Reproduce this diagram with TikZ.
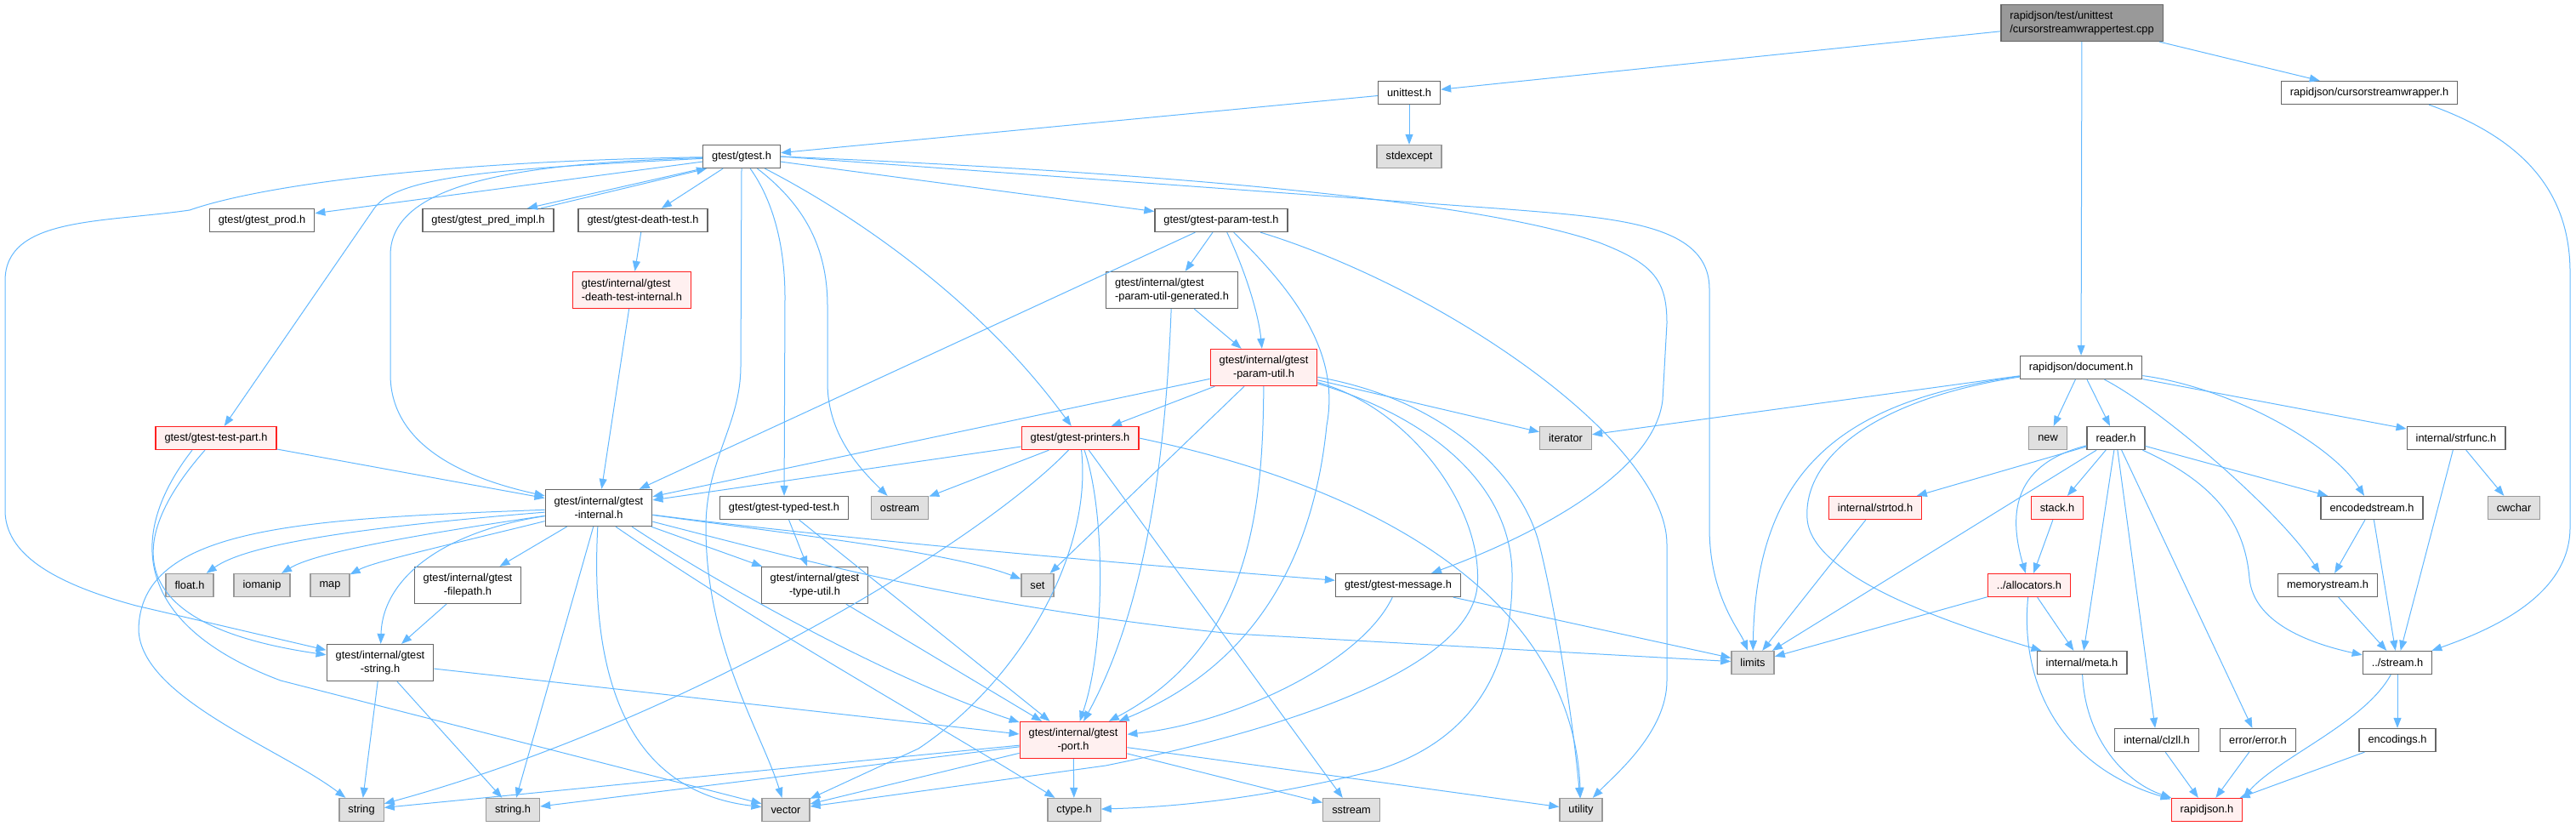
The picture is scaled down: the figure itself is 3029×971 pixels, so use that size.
\documentclass[tikz,border=0pt]{standalone}
\usepackage{fontspec}
\setmainfont{Liberation Sans}
\usetikzlibrary{arrows.meta}
\definecolor{cDep}{HTML}{63B8FF}
\definecolor{cHdr}{HTML}{666666}
\definecolor{cSys}{HTML}{999999}
\definecolor{cSysFill}{HTML}{E0E0E0}
\definecolor{cBad}{HTML}{FF2020}
\definecolor{cBadFill}{HTML}{FFF0F0}
\definecolor{cRoot}{HTML}{999999}

\begin{document}
\begin{tikzpicture}[
			x=1pt, y=-1pt,
			hdr/.style={
				draw=cHdr,
				fill=white,
				line width=1.3pt,
				font=\fontsize{12.8}{15.5}\selectfont,
				inner xsep=10.5pt,
				inner ysep=0pt,
				minimum height=27pt
			},
			sys/.style={hdr, draw=cSys, fill=cSysFill},
			bad/.style={hdr, draw=cBad, fill=cBadFill},
			rootbox/.style={hdr, fill=cRoot},
			twoline/.style={minimum height=43pt, align=center},
			twoleft/.style={minimum height=43pt, align=left},
			dep/.style={draw=cDep, line width=1pt, -{Triangle[length=12pt,width=9pt]}}
			]
			\useasboundingbox (0,0) rectangle (3029,971);

			\node[rootbox,twoleft] (root) at (2448,27) {rapidjson/test/unittest\\/cursorstreamwrappertest.cpp};
			\node[hdr] (unit) at (1657,109) {unittest.h};
			\node[hdr] (csw) at (2786,109) {rapidjson/cursorstreamwrapper.h};
			\node[hdr] (gtest) at (872,184) {gtest/gtest.h};
			\node[sys] (stdexc) at (1657,184) {stdexcept};
			\node[hdr] (gprod) at (308,259) {gtest/gtest\_prod.h};
			\node[hdr] (gpred) at (574,259) {gtest/gtest\_pred\_impl.h};
			\node[hdr] (gdeath) at (756,259) {gtest/gtest-death-test.h};
			\node[hdr] (gparam) at (1436,259) {gtest/gtest-param-test.h};
			\node[bad,twoleft] (gdti) at (743,341) {gtest/internal/gtest\\-death-test-internal.h};
			\node[hdr,twoleft] (gpug) at (1378,341) {gtest/internal/gtest\\-param-util-generated.h};
			\node[bad,twoline] (gpu) at (1486,432) {gtest/internal/gtest\\-param-util.h};
			\node[hdr] (doc) at (2447,432) {rapidjson/document.h};
			\node[bad] (gtp) at (254,515) {gtest/gtest-test-part.h};
			\node[bad] (gprint) at (1270,515) {gtest/gtest-printers.h};
			\node[sys] (iter) at (1841,515) {iterator};
			\node[sys] (new) at (2408,515) {new};
			\node[hdr] (reader) at (2488,515) {reader.h};
			\node[hdr] (strfunc) at (2888,515) {internal/strfunc.h};
			\node[hdr,twoline] (gint) at (704,597) {gtest/internal/gtest\\-internal.h};
			\node[hdr] (gtyped) at (922,597) {gtest/gtest-typed-test.h};
			\node[sys] (ostream) at (1058,597) {ostream};
			\node[bad] (strtod) at (2205,597) {internal/strtod.h};
			\node[bad] (stack) at (2419,597) {stack.h};
			\node[hdr] (encst) at (2789,597) {encodedstream.h};
			\node[sys] (cwchar) at (2956,597) {cwchar};
			\node[sys] (float) at (223,688) {float.h};
			\node[sys] (iomanip) at (308,688) {iomanip};
			\node[sys] (map) at (388,688) {map};
			\node[hdr,twoline] (gfp) at (550,688) {gtest/internal/gtest\\-filepath.h};
			\node[hdr,twoline] (gtu) at (958,688) {gtest/internal/gtest\\-type-util.h};
			\node[sys] (set) at (1220,688) {set};
			\node[hdr] (gmsg) at (1644,688) {gtest/gtest-message.h};
			\node[bad] (alloc) at (2386,688) {../allocators.h};
			\node[hdr] (memst) at (2737,688) {memorystream.h};
			\node[hdr,twoline] (gstr) at (447,779) {gtest/internal/gtest\\-string.h};
			\node[sys] (limits) at (2061,779) {limits};
			\node[hdr] (meta) at (2448,779) {internal/meta.h};
			\node[hdr] (stream) at (2819,779) {../stream.h};
			\node[bad,twoline] (gport) at (1262,870) {gtest/internal/gtest\\-port.h};
			\node[hdr] (clzll) at (2536,870) {internal/clzll.h};
			\node[hdr] (error) at (2655,870) {error/error.h};
			\node[hdr] (encod) at (2819,870) {encodings.h};
			\node[sys] (string) at (425,952) {string};
			\node[sys] (strh) at (603,952) {string.h};
			\node[sys] (vector) at (924,952) {vector};
			\node[sys] (ctype) at (1263,952) {ctype.h};
			\node[sys] (sstream) at (1589,952) {sstream};
			\node[sys] (utility) at (1859,952) {utility};
			\node[bad] (rj) at (2595,952) {rapidjson.h};

			\draw[dep] (root) -- (unit);
			\draw[dep] (root) -- (doc);
			\draw[dep] (root) -- (csw);
			\draw[dep] (unit) -- (gtest);
			\draw[dep] (unit) -- (stdexc);
			\draw[dep] ([xshift=70pt]csw.south) .. controls (2960,160) and (3022,220) .. (3022,320) -- (3022,620) .. controls (3022,700) and (2930,740) .. (stream);

			\draw[dep] (gtest) -- (gprod);
			\draw[dep] (gtest.south west) -- ([xshift=46pt]gpred.north);
			\draw[dep] ([xshift=62pt]gpred.north) -- ([xshift=5pt]gtest.south west);
			\draw[dep] (gtest) -- (gdeath);
			\draw[dep] (gdeath) -- (gdti);
			\draw[dep] (gdti) -- (gint);
			\draw[dep] (gtest) .. controls (500,190) and (300,220) .. (223,247) .. controls (120,262) and (6,255) .. (6,330) -- (6,600) .. controls (6,650) and (60,685) .. (160,712) -- (gstr);
			\draw[dep] (gtest) .. controls (620,192) and (459,212) .. (459,300) -- (459,440) .. controls (459,530) and (560,565) .. (gint);
			\draw[dep] (gtest) .. controls (600,198) and (468,205) .. (440,245) -- (gtp);
			\draw[dep] (gtest) -- (gparam);
			\draw[dep] (gtest.east) -- (1760,245) .. controls (1900,256) and (2010,262) .. (2010,340) -- (2010,620) .. controls (2010,700) and (2045,740) .. (limits);
			\draw[dep] (gtest.east) .. controls (1300,200) and (1720,230) .. (1880,285) .. controls (1945,310) and (1960,330) .. (1960,380) -- (1955,470) .. controls (1945,560) and (1790,635) .. (gmsg);
			\draw[dep] (gtest.south) -- (871,430) .. controls (871,500) and (830,540) .. (830,620) .. controls (830,760) and (895,860) .. (vector);
			\draw[dep] (gtest) .. controls (905,230) and (923,280) .. (923,350) -- (gtyped);
			\draw[dep] (gtest) .. controls (945,240) and (973,290) .. (973,360) -- (973,450) .. controls (973,510) and (1010,550) .. (ostream);
			\draw[dep] (gtest) .. controls (1000,250) and (1150,350) .. (gprint);

			\draw[dep] (gparam) -- (gint);
			\draw[dep] (gparam) -- (gpug);
			\draw[dep] (gparam) .. controls (1465,320) and (1480,370) .. (gpu);
			\draw[dep] (gparam) .. controls (1530,350) and (1575,420) .. (1560,500) .. controls (1545,650) and (1480,780) .. (gport);
			\draw[dep] (gparam) .. controls (1700,340) and (1960,520) .. (1960,640) -- (1960,800) .. controls (1960,860) and (1900,910) .. (utility);
			\draw[dep] (gpug) -- (gpu);
			\draw[dep] (gpug) .. controls (1372,500) and (1355,700) .. (gport);

			\draw[dep] (gpu) -- (gint);
			\draw[dep] (gpu) -- (gprint);
			\draw[dep] (gpu) -- (set);
			\draw[dep] (gpu) .. controls (1485,600) and (1470,760) .. (gport);
			\draw[dep] (gpu) -- (iter);
			\draw[dep] (gpu) .. controls (1660,480) and (1745,600) .. (1737,690) .. controls (1725,800) and (1450,870) .. (1300,900) -- (vector);
			\draw[dep] (gpu) .. controls (1680,490) and (1780,570) .. (1778,680) .. controls (1778,820) and (1700,880) .. (1620,905) .. controls (1500,935) and (1400,948) .. (ctype);
			\draw[dep] (gpu) .. controls (1700,470) and (1790,560) .. (1810,640) .. controls (1830,720) and (1850,850) .. (utility);

			\draw[dep] (gprint) -- (gint);
			\draw[dep] (gprint) -- (ostream);
			\draw[dep] (gprint) .. controls (1150,640) and (800,850) .. (string);
			\draw[dep] (gprint) .. controls (1285,650) and (1200,800) .. (1080,880) -- (vector);
			\draw[dep] (gprint) .. controls (1300,600) and (1300,760) .. (gport);
			\draw[dep] (gprint) -- (sstream);
			\draw[dep] (gprint.east) .. controls (1650,580) and (1850,720) .. (utility);

			\draw[dep] (gtp) -- (gint);
			\draw[dep] ([xshift=-13pt]gtp.south) .. controls (170,610) and (110,730) .. (gstr);
			\draw[dep] ([xshift=-28pt]gtp.south) .. controls (140,640) and (170,740) .. (330,800) -- (vector);

			\draw[dep] (gint) .. controls (420,620) and (290,640) .. (float);
			\draw[dep] (gint) .. controls (480,630) and (370,650) .. (iomanip);
			\draw[dep] (gint) .. controls (530,640) and (440,660) .. (map);
			\draw[dep] (gint) .. controls (350,610) and (165,620) .. (163,740) .. controls (165,820) and (330,880) .. (string);
			\draw[dep] (gint) .. controls (520,625) and (450,680) .. (gstr);
			\draw[dep] (gint) -- (gfp);
			\draw[dep] (gint) -- (strh);
			\draw[dep] (gint) .. controls (690,860) and (780,935) .. (vector);
			\draw[dep] ([xshift=39pt]gint.south) .. controls (850,690) and (1050,800) .. (gport);
			\draw[dep] ([xshift=20pt]gint.south) .. controls (900,740) and (1100,850) .. (ctype);
			\draw[dep] (gint) -- (gtu);
			\draw[dep] (gint) .. controls (950,630) and (1120,650) .. (set);
			\draw[dep] (gint) .. controls (1000,635) and (1350,665) .. (gmsg);
			\draw[dep] (gint) .. controls (950,660) and (1150,715) .. (1450,745) -- (limits);

			\draw[dep] (gfp) -- (gstr);
			\draw[dep] (gstr) -- (string);
			\draw[dep] (gstr) -- (strh);
			\draw[dep] (gstr) -- (gport);
			\draw[dep] (gtyped) -- (gtu);
			\draw[dep] (gtyped) -- (gport);
			\draw[dep] (gtu) -- (gport);
			\draw[dep] (gmsg) .. controls (1600,780) and (1450,850) .. (gport);
			\draw[dep] (gmsg) -- (limits);

			\draw[dep] (gport) -- (string);
			\draw[dep] (gport) -- (strh);
			\draw[dep] (gport) -- (vector);
			\draw[dep] (gport) -- (ctype);
			\draw[dep] (gport) -- (sstream);
			\draw[dep] (gport) -- (utility);

			\draw[dep] (doc) -- (iter);
			\draw[dep] (doc) .. controls (2180,470) and (2065,540) .. (limits);
			\draw[dep] (doc) .. controls (2200,470) and (2120,540) .. (2125,610) .. controls (2130,680) and (2300,735) .. (meta);
			\draw[dep] (doc) -- (new);
			\draw[dep] (doc) -- (reader);
			\draw[dep] (doc) .. controls (2540,480) and (2680,600) .. (memst);
			\draw[dep] (doc) .. controls (2620,455) and (2740,520) .. (encst);
			\draw[dep] (doc) -- (strfunc);

			\draw[dep] (reader) -- (strtod);
			\draw[dep] (reader) -- (limits);
			\draw[dep] (reader) .. controls (2370,545) and (2360,600) .. (alloc);
			\draw[dep] (reader) -- (stack);
			\draw[dep] (reader) -- (meta);
			\draw[dep] (reader) -- (clzll);
			\draw[dep] (reader) -- (error);
			\draw[dep] (reader) .. controls (2610,570) and (2640,620) .. (2645,680) .. controls (2650,730) and (2710,755) .. (stream);
			\draw[dep] (reader) -- (encst);

			\draw[dep] (strtod) -- (limits);
			\draw[dep] (stack) -- (alloc);
			\draw[dep] (alloc) -- (limits);
			\draw[dep] (alloc) -- (meta);
			\draw[dep] (alloc) .. controls (2375,800) and (2420,900) .. (rj);
			\draw[dep] (meta) .. controls (2452,870) and (2500,920) .. (rj);
			\draw[dep] (clzll) -- (rj);
			\draw[dep] (error) -- (rj);
			\draw[dep] (encod) -- (rj);
			\draw[dep] (stream) .. controls (2780,850) and (2680,890) .. (rj.north east);
			\draw[dep] (stream) -- (encod);
			\draw[dep] (encst) -- (memst);
			\draw[dep] (encst) -- (stream);
			\draw[dep] (memst) -- (stream);
			\draw[dep] (strfunc) -- (stream);
			\draw[dep] (strfunc) -- (cwchar);
		\end{tikzpicture}
\end{document}
